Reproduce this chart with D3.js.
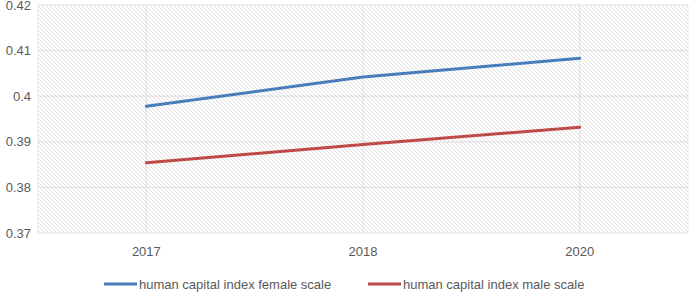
<!DOCTYPE html>
<html><head><meta charset="utf-8">
<script src="https://cdn.jsdelivr.net/npm/d3@7"></script>
<style>body{margin:0;background:#fff}svg{display:block}text{font-family:"Liberation Sans",Arial,sans-serif;fill:#595959}</style>
</head><body><svg id="c" width="690" height="292"></svg>
<script>
const categories = ["2017", "2018", "2020"];
const femaleValues = [0.3978, 0.4042, 0.4083];
const maleValues = [0.3854, 0.3894, 0.3932];
const yTicks = [0.37, 0.38, 0.39, 0.4, 0.41, 0.42];
const seriesNames = ["human capital index female scale", "human capital index male scale"];
const seriesColors = ["#4a7ebb", "#be4b48"];

const svg = d3.select("#c");
const L = 38, R = 688, T = 5, B = 233;
const x = d3.scaleBand().domain(categories).range([L, R]);
const y = d3.scaleLinear().domain([0.37, 0.42]).range([B, T]);

const defs = svg.append("defs");
const pat = defs.append("pattern").attr("id", "hatch").attr("patternUnits", "userSpaceOnUse")
  .attr("width", 4).attr("height", 4);
pat.append("rect").attr("width", 4).attr("height", 4).attr("fill", "#ffffff");
pat.append("path").attr("d", "M-1,-1 L5,5 M-1,3 L1,5 M3,-1 L5,1").attr("stroke", "#dedede").attr("stroke-width", 1);

svg.append("rect").attr("x", L).attr("y", T).attr("width", R - L).attr("height", B - T).attr("fill", "url(#hatch)");

// horizontal gridlines
svg.append("g").selectAll("line").data(yTicks).join("line")
  .attr("x1", L).attr("x2", R).attr("y1", d => y(d)).attr("y2", d => y(d))
  .attr("stroke", "#e2e2e2").attr("stroke-width", 1.2);
// vertical gridlines
svg.append("g").selectAll("line").data(categories).join("line")
  .attr("y1", T).attr("y2", B).attr("x1", d => x(d) + x.bandwidth() / 2).attr("x2", d => x(d) + x.bandwidth() / 2)
  .attr("stroke", "#e2e2e2").attr("stroke-width", 1.2);
svg.append("line").attr("x1", L).attr("x2", L).attr("y1", T).attr("y2", B).attr("stroke", "#e8e8e8");
svg.append("line").attr("x1", R).attr("x2", R).attr("y1", T).attr("y2", B).attr("stroke", "#e8e8e8");

// y axis labels
const yAxis = d3.axisLeft(y).tickValues(yTicks).tickSize(0).tickPadding(7).tickFormat(d => String(+d.toFixed(2)));
const ga = svg.append("g").attr("transform", `translate(${L},0)`).call(yAxis);
ga.select(".domain").remove();
ga.selectAll("text").attr("font-size", 13).style("font-family", '"Liberation Sans",Arial,sans-serif').attr("fill", "#595959");

// x axis labels
const xAxis = d3.axisBottom(x).tickSize(0).tickPadding(14);
const gx = svg.append("g").attr("transform", `translate(0,${B})`).call(xAxis);
gx.select(".domain").remove();
gx.selectAll("text").attr("font-size", 13).style("font-family", '"Liberation Sans",Arial,sans-serif').attr("fill", "#595959");

const line = d3.line().x((d, i) => x(categories[i]) + x.bandwidth() / 2).y(d => y(d));
[femaleValues, maleValues].forEach((vals, k) => {
  svg.append("path").datum(vals).attr("d", line).attr("fill", "none")
    .attr("stroke", seriesColors[k]).attr("stroke-width", 3).attr("stroke-linecap", "round");
});

// legend
const legX = [104, 368];
seriesNames.forEach((n, k) => {
  const g = svg.append("g").attr("transform", `translate(${legX[k]},284)`);
  g.append("line").attr("x1", 0).attr("x2", 33).attr("y1", 0).attr("y2", 0).attr("stroke", seriesColors[k]).attr("stroke-width", 3);
  g.append("text").attr("x", 35).attr("y", 4.5).attr("font-size", 13).text(n);
});
</script></body></html>
